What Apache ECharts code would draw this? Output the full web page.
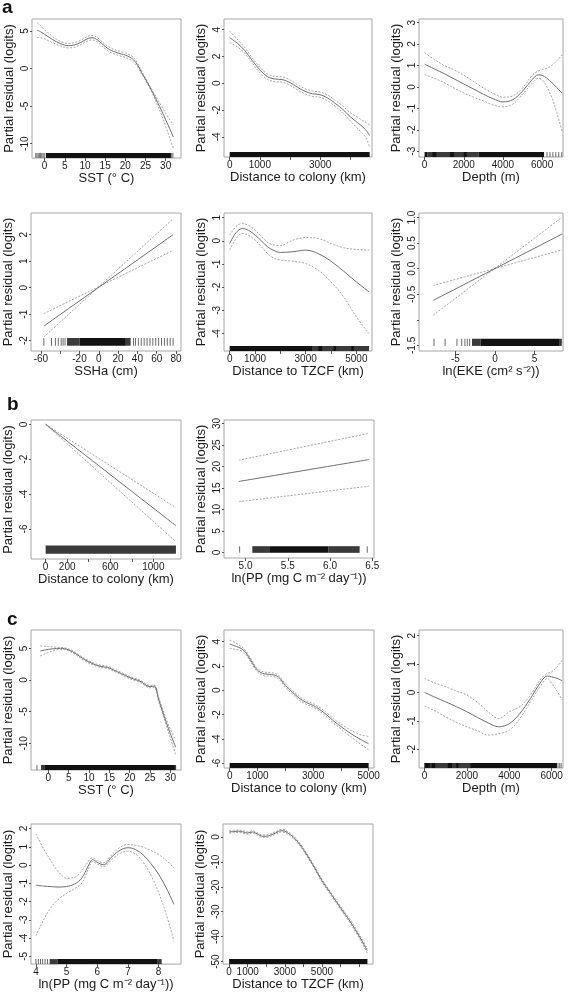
<!DOCTYPE html>
<html><head><meta charset="utf-8">
<script src="https://cdn.jsdelivr.net/npm/echarts@6/dist/echarts.min.js"></script>
<style>html,body{margin:0;padding:0;background:#fff}#c{width:570px;height:992px}</style>
</head><body><div id="c"></div>
<script>
// ---------------- DATA ----------------
// a1: SST
const a1X   = [-1.9,-1,0,1,2,3,4,5,6,7,8,9,10,11,12,13,14,15,16,17,18,19,20,21,22,23,24,25,26,27,28,29,30,31,31.9];
const a1Fit = [5.13,4.9,4.55,4.2,3.85,3.55,3.3,3.12,3.05,3.1,3.25,3.5,3.8,4.05,4.1,3.85,3.4,2.95,2.55,2.3,2.1,1.95,1.8,1.55,1.2,0.5,-0.5,-1.4,-2.4,-3.4,-4.5,-5.6,-6.8,-8.0,-9.1];
const a1Hi  = [6.13,5.7,5.15,4.7,4.25,3.9,3.6,3.42,3.35,3.4,3.55,3.8,4.1,4.35,4.4,4.15,3.7,3.25,2.85,2.6,2.4,2.25,2.1,1.85,1.5,0.75,-0.3,-1.25,-2.25,-3.15,-4.1,-5.0,-5.95,-6.8,-7.5];
const a1Lo  = [4.13,4.1,3.95,3.7,3.45,3.2,3.0,2.82,2.75,2.8,2.95,3.2,3.5,3.75,3.8,3.55,3.1,2.65,2.25,2.0,1.8,1.65,1.5,1.25,0.9,0.25,-0.7,-1.55,-2.55,-3.65,-4.9,-6.2,-7.65,-9.2,-10.6];
const a1RugDense = [[0.3,31.3]];
const a1RugMid   = [];
const a1RugTicks = [-2.2,-1.9,-1.6,-1.3,-1.0,-0.7,-0.4,-0.1,31.5,31.8];
const a1XTicks = [0,5,10,15,20,25,30], a1XLabels = [0,5,10,15,20,25,30];
const a1YTicks = [-10,-5,0,5], a1YLabels = [-10,-5,0,5];

// a2: Distance to colony
const a2X   = [0,250,500,750,1000,1250,1500,1750,2000,2250,2500,2750,3000,3250,3500,3750,4000,4250,4500,4640];
const a2Fit = [3.4,3.0,2.45,1.7,1.0,0.5,0.32,0.28,0.05,-0.3,-0.6,-0.78,-0.85,-1.1,-1.5,-1.95,-2.5,-2.95,-3.45,-3.9];
const a2Hi  = [3.9,3.3,2.67,1.9,1.2,0.7,0.52,0.48,0.25,-0.1,-0.4,-0.58,-0.65,-0.88,-1.28,-1.7,-2.2,-2.55,-2.9,-3.1];
const a2Lo  = [3.05,2.72,2.25,1.5,0.8,0.3,0.12,0.08,-0.15,-0.5,-0.8,-0.98,-1.05,-1.32,-1.72,-2.2,-2.8,-3.4,-4.0,-4.75];
const a2RugDense = [[0,4640]];
const a2RugMid   = [];
const a2RugTicks = [];
const a2XTicks = [0,1000,2000,3000,4000], a2XLabels = [0,1000,3000];
const a2YTicks = [-4,-2,0,2,4], a2YLabels = [-4,-2,0,2,4];

// a3: Depth
const a3X   = [0,500,1000,1500,2000,2500,3000,3500,4000,4500,5000,5500,5800,6000,6250,6500,6750,7030];
const a3Fit = [1.06,0.84,0.62,0.38,0.14,-0.1,-0.34,-0.55,-0.7,-0.6,-0.2,0.35,0.56,0.54,0.4,0.2,-0.03,-0.3];
const a3Hi  = [1.6,1.28,1.0,0.8,0.55,0.25,-0.05,-0.3,-0.48,-0.42,-0.05,0.55,0.74,0.8,0.88,1.0,1.22,1.5];
const a3Lo  = [0.58,0.4,0.2,-0.05,-0.28,-0.48,-0.65,-0.85,-0.93,-0.8,-0.35,0.18,0.4,0.33,0.0,-0.5,-1.2,-2.1];
const a3RugDense = [[0,150],[400,600],[1300,1500],[2000,2150],[2750,6100]];
const a3RugMid   = [[150,2750]];
const a3RugTicks = [6250,6400,6550,6700,6850,7000];
const a3XTicks = [0,2000,4000,6000], a3XLabels = [0,2000,4000,6000];
const a3YTicks = [-3,-2,-1,0,1,2,3], a3YLabels = [-3,-2,-1,0,1,2,3];

// a4: SSHa (linear term)
const a4X   = [-57,77];
const a4Fit = [-1.45,2.0];
const a4Hi  = [-0.98,1.41];
const a4Lo  = [-1.86,2.6];
const a4RugDense = [[-20,28]];
const a4RugMid   = [[-33,-20],[28,33]];
const a4RugTicks = [-57,-49,-45,-42,-39,-37,-35,36,38,41,44,47,50,53,56,59,62,65,68,71,74,77];
const a4XTicks = [-60,-40,-20,0,20,40,60,80], a4XLabels = [-60,-20,0,20,40,60,80];
const a4YTicks = [-2,-1,0,1,2], a4YLabels = [-2,-1,0,1,2];

// a5: Distance to TZCF
const a5X   = [0,250,500,750,1000,1250,1500,1750,2000,2500,3000,3500,4000,4500,5000,5500];
const a5Fit = [-0.12,0.35,0.53,0.45,0.25,0.0,-0.26,-0.42,-0.5,-0.47,-0.4,-0.55,-0.88,-1.31,-1.77,-2.2];
const a5Hi  = [0.24,0.62,0.75,0.66,0.46,0.2,-0.07,-0.18,-0.2,0.03,0.14,0.1,-0.12,-0.3,-0.37,-0.4];
const a5Lo  = [-0.4,0.1,0.32,0.24,0.03,-0.25,-0.55,-0.75,-0.83,-0.88,-0.98,-1.27,-1.77,-2.42,-3.28,-4.0];
const a5RugDense = [[0,3250],[3500,3650],[4100,4200],[4800,4900]];
const a5RugMid   = [[3250,5500]];
const a5RugTicks = [];
const a5XTicks = [0,1000,2000,3000,4000,5000], a5XLabels = [0,1000,3000,5000];
const a5YTicks = [-4,-3,-2,-1,0,1], a5YLabels = [-4,-3,-2,-1,0,1];

// a6: ln(EKE) (linear term)
const a6X   = [-7.8,8.5];
const a6Fit = [-0.62,0.68];
const a6Hi  = [-0.33,0.37];
const a6Lo  = [-0.91,1.01];
const a6RugDense = [[-1.8,8.1]];
const a6RugMid   = [[-2.9,-1.8],[8.1,8.45]];
const a6RugTicks = [-7.7,-6.3,-4.8,-4.2,-3.8,-3.5,-3.2];
const a6XTicks = [-5,0,5], a6XLabels = [-5,0,5];
const a6YTicks = [-1.5,-1.0,-0.5,0,0.5,1.0], a6YLabels = [-1.5,-0.5,0,0.5,1.0];

// b1: Distance to colony (linear)
const b1X   = [0,1210];
const b1Fit = [0,-5.81];
const b1Hi  = [0,-4.78];
const b1Lo  = [0,-6.73];
const b1RugDense = [];
const b1RugMid   = [[0,1210]];
const b1RugTicks = [];
const b1XTicks = [0,200,400,600,800,1000], b1XLabels = [0,200,600,1000];
const b1YTicks = [-6,-4,-2,0], b1YLabels = [-6,-4,-2,0];

// b2: ln(PP) (linear)
const b2X   = [4.92,6.46];
const b2Fit = [16.5,21.6];
const b2Hi  = [21.45,27.7];
const b2Lo  = [11.8,15.4];
const b2RugDense = [[5.28,5.98]];
const b2RugMid   = [[5.08,5.28],[5.98,6.35]];
const b2RugTicks = [4.93,6.44];
const b2XTicks = [5.0,5.5,6.0,6.5], b2XLabels = [5.0,5.5,6.0,6.5];
const b2YTicks = [0,5,10,15,20,25,30], b2YLabels = [0,5,10,15,20,25,30];

// c1: SST
const c1X   = [-2,-1,0,1,2,3,4,5,6,7,8,9,10,11,12,13,14,15,16,17,18,19,20,21,22,23,24,25,26,26.5,27,28,29,30,31.3];
const c1Fit = [4.58,4.72,4.84,4.93,4.98,5.0,4.95,4.75,4.45,4.05,3.6,3.2,2.85,2.55,2.3,2.15,2.05,1.9,1.6,1.3,1.0,0.7,0.4,0.15,-0.05,-0.35,-0.8,-1.05,-0.95,-1.4,-2.8,-4.8,-6.7,-8.5,-10.6];
const c1Hi  = [5.37,5.33,5.28,5.23,5.18,5.15,5.1,4.9,4.63,4.23,3.78,3.38,3.03,2.73,2.48,2.33,2.23,2.08,1.78,1.48,1.18,0.88,0.58,0.33,0.13,-0.17,-0.62,-0.87,-0.75,-1.2,-2.5,-4.4,-6.2,-7.8,-9.5];
const c1Lo  = [3.8,4.1,4.35,4.6,4.75,4.83,4.8,4.6,4.27,3.87,3.42,3.02,2.67,2.37,2.12,1.97,1.87,1.72,1.42,1.12,0.82,0.52,0.22,-0.03,-0.23,-0.53,-0.98,-1.23,-1.15,-1.6,-3.1,-5.2,-7.2,-9.2,-11.8];
const c1RugDense = [[-1.0,31.1]];
const c1RugMid   = [[-1.8,-1.0],[31.1,31.4]];
const c1RugTicks = [-2.8];
const c1XTicks = [0,5,10,15,20,25,30], c1XLabels = [0,5,10,15,20,25,30];
const c1YTicks = [-10,-5,0,5], c1YLabels = [-10,-5,0,5];

// c2: Distance to colony
const c2X   = [0,250,500,750,1000,1250,1500,1750,2000,2250,2500,2750,3000,3250,3500,3750,4000,4250,4500,4750,5000];
const c2Fit = [3.8,3.6,3.3,2.5,1.65,1.35,1.3,1.1,0.4,-0.15,-0.65,-1.0,-1.25,-1.6,-2.05,-2.55,-2.98,-3.4,-3.77,-4.1,-4.41];
const c2Hi  = [4.13,3.85,3.45,2.65,1.8,1.5,1.45,1.25,0.55,0.0,-0.5,-0.85,-1.1,-1.45,-1.88,-2.37,-2.78,-3.15,-3.47,-3.7,-3.8];
const c2Lo  = [3.45,3.35,3.15,2.35,1.5,1.2,1.15,0.95,0.25,-0.3,-0.8,-1.15,-1.4,-1.75,-2.22,-2.73,-3.18,-3.65,-4.07,-4.5,-4.9];
const c2RugDense = [[0,5000]];
const c2RugMid   = [];
const c2RugTicks = [];
const c2XTicks = [0,1000,2000,3000,4000,5000], c2XLabels = [0,1000,3000,5000];
const c2YTicks = [-6,-4,-2,0,2,4], c2YLabels = [-6,-4,-2,0,2,4];

// c3: Depth
const c3X   = [0,500,1000,1500,2000,2500,3000,3500,4000,4500,5000,5500,5800,6000,6250,6500];
const c3Fit = [0.0,-0.17,-0.33,-0.5,-0.68,-0.88,-1.07,-1.21,-1.1,-0.74,-0.21,0.38,0.58,0.55,0.5,0.41];
const c3Hi  = [0.49,0.33,0.2,0.05,-0.09,-0.35,-0.68,-0.92,-0.68,-0.5,-0.09,0.49,0.67,0.73,0.9,1.14];
const c3Lo  = [-0.48,-0.65,-0.86,-1.05,-1.21,-1.35,-1.5,-1.45,-1.33,-0.92,-0.33,0.26,0.49,0.32,0.05,-0.27];
const c3RugDense = [[0,250],[330,500],[1100,1300],[1500,1600],[2150,6250]];
const c3RugMid   = [[0,2150]];
const c3RugTicks = [6300,6380,6450];
const c3XTicks = [0,2000,4000,6000], c3XLabels = [0,2000,4000,6000];
const c3YTicks = [-2,-1,0,1,2], c3YLabels = [-2,-1,0,1,2];

// c4: ln(PP)
const c4X   = [4.0,4.25,4.5,4.75,5.0,5.25,5.5,5.75,5.85,6.0,6.2,6.5,6.75,7.0,7.25,7.5,7.75,8.0,8.25,8.5];
const c4Fit = [-1.1,-1.15,-1.18,-1.2,-1.17,-1.05,-0.7,0.1,0.3,0.15,0.02,0.5,0.82,0.95,0.85,0.55,0.08,-0.5,-1.25,-2.15];
const c4Hi  = [1.71,0.9,0.2,-0.4,-0.72,-0.68,-0.3,0.3,0.4,0.25,0.12,0.62,0.98,1.13,1.08,0.98,0.8,0.58,0.25,-0.15];
const c4Lo  = [-3.87,-3.0,-2.3,-1.85,-1.55,-1.3,-0.98,-0.05,0.2,0.05,-0.08,0.35,0.65,0.76,0.6,0.15,-0.55,-1.5,-2.7,-4.15];
const c4RugDense = [[4.7,7.95]];
const c4RugMid   = [[4.45,4.7],[7.95,8.1]];
const c4RugTicks = [4.0,4.08,4.15,4.22,4.3,4.38];
const c4XTicks = [4,5,6,7,8], c4XLabels = [4,5,6,7,8];
const c4YTicks = [-5,-4,-3,-2,-1,0,1,2], c4YLabels = [-5,-4,-3,-2,-1,0,1,2];

// c5: Distance to TZCF
const c5X   = [0,250,500,750,1000,1250,1500,1800,2000,2250,2500,2800,3000,3300,3600,4000,4500,5000,5500,6000,6500,7000,7450];
const c5Fit = [2.0,2.2,2.3,2.0,1.6,2.0,1.3,0.3,0.3,0.8,1.6,2.5,2.3,0.9,-1.1,-5,-11,-17.5,-23,-28.4,-33.7,-39.7,-45.7];
const c5Hi  = [2.5,2.7,2.8,2.5,2.1,2.5,1.8,0.8,0.8,1.3,2.1,3.0,2.8,1.4,-0.6,-4.5,-10.5,-17.0,-22.4,-27.8,-33.0,-38.9,-44.8];
const c5Lo  = [1.5,1.7,1.8,1.5,1.1,1.5,0.8,-0.2,-0.2,0.3,1.1,2.0,1.8,0.4,-1.6,-5.5,-11.5,-18.0,-23.6,-29.0,-34.4,-40.5,-46.6];
const c5RugDense = [[0,7450]];
const c5RugMid   = [];
const c5RugTicks = [];
const c5XTicks = [0,1000,2000,3000,4000,5000,6000,7000], c5XLabels = [0,1000,3000,5000];
const c5YTicks = [-50,-40,-30,-20,-10,0], c5YLabels = [-50,-40,-30,-20,-10,0];

const Y_TITLE = 'Partial residual (logits)';

// ---------------- LAYOUT ----------------
const FONT = '"Liberation Sans", Arial, Helvetica, sans-serif';
const panels = [
  {g:[32,19,149,139], xr:[-3.13,33.8], yr:[-11.9,6.6], x:a1X,f:a1Fit,hi:a1Hi,lo:a1Lo, rd:a1RugDense, rm:a1RugMid, rt:a1RugTicks, xt:a1XTicks, xl:a1XLabels, yt:a1YTicks, yl:a1YLabels, title:'SST (° C)'},
  {g:[224,19,148,138], xr:[-188,4718], yr:[-5.5,4.8], x:a2X,f:a2Fit,hi:a2Hi,lo:a2Lo, rd:a2RugDense, rm:a2RugMid, rt:a2RugTicks, xt:a2XTicks, xl:a2XLabels, yt:a2YTicks, yl:a2YLabels, title:'Distance to colony (km)'},
  {g:[419,19,144,138], xr:[-285,7067], yr:[-3.27,3.17], x:a3X,f:a3Fit,hi:a3Hi,lo:a3Lo, rd:a3RugDense, rm:a3RugMid, rt:a3RugTicks, xt:a3XTicks, xl:a3XLabels, yt:a3YTicks, yl:a3YLabels, title:'Depth (m)'},
  {g:[31,213,150,138], xr:[-70.3,85.2], yr:[-2.39,2.82], x:a4X,f:a4Fit,hi:a4Hi,lo:a4Lo, rd:a4RugDense, rm:a4RugMid, rt:a4RugTicks, xt:a4XTicks, xl:a4XLabels, yt:a4YTicks, yl:a4YLabels, title:'SSHa (cm)', rugY:[-2.19,-1.9], gap:14},
  {g:[224,213,148,138], xr:[-224,5618], yr:[-4.75,1.2], x:a5X,f:a5Fit,hi:a5Hi,lo:a5Lo, rd:a5RugDense, rm:a5RugMid, rt:a5RugTicks, xt:a5XTicks, xl:a5XLabels, yt:a5YTicks, yl:a5YLabels, title:'Distance to TZCF (km)', gap:14},
  {g:[419,213,144,138], xr:[-9.6,8.6], yr:[-1.61,1.09], x:a6X,f:a6Fit,hi:a6Hi,lo:a6Lo, rd:a6RugDense, rm:a6RugMid, rt:a6RugTicks, xt:a6XTicks, xl:a6XLabels, yt:a6YTicks, yl:a6YLabels, title:'ln(EKE (cm² s⁻²))', rugY:[-1.51,-1.37], ydec:1, gap:14},
  {g:[31,420,150,139], xr:[-136,1257], yr:[-7.72,0.25], x:b1X,f:b1Fit,hi:b1Hi,lo:b1Lo, rd:b1RugDense, rm:b1RugMid, rt:b1RugTicks, xt:b1XTicks, xl:b1XLabels, yt:b1YTicks, yl:b1YLabels, title:'Distance to colony (km)', rugY:[-7.42,-6.95]},
  {g:[224,420,150,138], xr:[4.745,6.52], yr:[-1.3,30.8], x:b2X,f:b2Fit,hi:b2Hi,lo:b2Lo, rd:b2RugDense, rm:b2RugMid, rt:b2RugTicks, xt:b2XTicks, xl:b2XLabels, yt:b2YTicks, yl:b2YLabels, title:'ln(PP (mg C m⁻² day⁻¹))', rugY:[-0.1,1.45], xdec:1},
  {g:[31,630,150,140], xr:[-4.26,32.6], yr:[-14.2,7.9], x:c1X,f:c1Fit,hi:c1Hi,lo:c1Lo, rd:c1RugDense, rm:c1RugMid, rt:c1RugTicks, xt:c1XTicks, xl:c1XLabels, yt:c1YTicks, yl:c1YLabels, title:'SST (° C)'},
  {g:[224,630,150,138], xr:[-204,5192], yr:[-6.4,4.96], x:c2X,f:c2Fit,hi:c2Hi,lo:c2Lo, rd:c2RugDense, rm:c2RugMid, rt:c2RugTicks, xt:c2XTicks, xl:c2XLabels, yt:c2YTicks, yl:c2YLabels, title:'Distance to colony (km)'},
  {g:[419,630,144,138], xr:[-262,6536], yr:[-2.66,2.2], x:c3X,f:c3Fit,hi:c3Hi,lo:c3Lo, rd:c3RugDense, rm:c3RugMid, rt:c3RugTicks, xt:c3XTicks, xl:c3XLabels, yt:c3YTicks, yl:c3YLabels, title:'Depth (m)'},
  {g:[31,824,150,141], xr:[3.84,8.73], yr:[-5.42,2.25], x:c4X,f:c4Fit,hi:c4Hi,lo:c4Lo, rd:c4RugDense, rm:c4RugMid, rt:c4RugTicks, xt:c4XTicks, xl:c4XLabels, yt:c4YTicks, yl:c4YLabels, title:'ln(PP (mg C m⁻² day⁻¹))'},
  {g:[223,824,150,141], xr:[-330,7750], yr:[-51,5.2], x:c5X,f:c5Fit,hi:c5Hi,lo:c5Lo, rd:c5RugDense, rm:c5RugMid, rt:c5RugTicks, xt:c5XTicks, xl:c5XLabels, yt:c5YTicks, yl:c5YLabels, title:'Distance to TZCF (km)'}
];

const zip = (xs, ys) => xs.map((v, i) => [v, ys[i]]);
const grids = [], xAxes = [], yAxes = [], series = [];
const TXT = '#1a1a1a';
const RUG_FILL = {2:'#111111', 1:'#3a3a3a', 0:'#6a6a6a'};

panels.forEach((p, i) => {
  grids.push({left:p.g[0], top:p.g[1], width:p.g[2], height:p.g[3], show:true,
    borderColor:'#a6a6a6', borderWidth:1, backgroundColor:'transparent'});
  xAxes.push({gridIndex:i, type:'value', min:p.xr[0], max:p.xr[1],
    axisLine:{show:false, onZero:false}, splitLine:{show:false},
    axisTick:{show:true, customValues:p.xt, length:3, inside:false, lineStyle:{color:'#555', width:1}},
    axisLabel:{customValues:p.xl, fontSize:10, color:TXT, margin:3, fontFamily:FONT,
      formatter: v => p.xdec ? Number(v).toFixed(p.xdec) : String(v)},
    name:p.title, nameLocation:'middle', nameGap:p.gap || 11,
    nameTextStyle:{fontSize:13, color:TXT, fontFamily:FONT}});
  yAxes.push({gridIndex:i, type:'value', min:p.yr[0], max:p.yr[1],
    axisLine:{show:false, onZero:false}, splitLine:{show:false},
    axisTick:{show:true, customValues:p.yt, length:2, lineStyle:{color:'#555', width:1}},
    axisLabel:{customValues:p.yl, fontSize:10, color:TXT, margin:2, rotate:90, fontFamily:FONT,
      formatter: v => p.ydec ? Number(v).toFixed(p.ydec) : String(v)},
    name:Y_TITLE, nameLocation:'middle', nameGap:16, nameRotate:90,
    nameTextStyle:{fontSize:13, color:TXT, fontFamily:FONT}});

  const base = {type:'line', xAxisIndex:i, yAxisIndex:i, showSymbol:false, symbol:'none',
    silent:true, animation:false, smooth:0.35, clip:true};
  series.push(Object.assign({}, base, {data:zip(p.x, p.lo), lineStyle:{color:'#a4a4a4', width:1, type:[2,1.5]}}));
  series.push(Object.assign({}, base, {data:zip(p.x, p.hi), lineStyle:{color:'#a4a4a4', width:1, type:[2,1.5]}}));
  series.push(Object.assign({}, base, {data:zip(p.x, p.f), lineStyle:{color:'#6e6e6e', width:1}}));

  const rugY = p.rugY || [p.yr[0], p.yr[0] + 0.036 * (p.yr[1] - p.yr[0])];
  const rugData = p.rm.map(b => [b[0], b[1], 1])
    .concat(p.rd.map(b => [b[0], b[1], 2]))
    .concat(p.rt.map(t => [t, t, 0]));
  series.push({type:'custom', xAxisIndex:i, yAxisIndex:i, silent:true, animation:false,
    data:rugData, encode:{x:[0,1]},
    renderItem:(params, api) => {
      const kind = api.value(2);
      const a = api.coord([api.value(0), rugY[0]]);
      const b = api.coord([api.value(1), rugY[1]]);
      const top = Math.min(a[1], b[1]), h = Math.abs(a[1] - b[1]);
      if (kind === 0) {
        return {type:'rect', shape:{x:a[0]-0.5, y:top, width:1, height:h}, style:{fill:RUG_FILL[0]}};
      }
      return {type:'rect', shape:{x:a[0], y:top, width:Math.max(1, b[0]-a[0]), height:h}, style:{fill:RUG_FILL[kind]}};
    }});
});

const chart = echarts.init(document.getElementById('c'), null, {renderer:'canvas', width:570, height:992});
chart.setOption({
  backgroundColor:'#ffffff',
  animation:false,
  grid:grids, xAxis:xAxes, yAxis:yAxes, series:series,
  graphic:[
    {type:'text', left:2, top:-2, style:{text:'a', fontSize:19, fontWeight:'bold', fill:'#111', fontFamily:FONT}},
    {type:'text', left:7, top:395, style:{text:'b', fontSize:19, fontWeight:'bold', fill:'#111', fontFamily:FONT}},
    {type:'text', left:7, top:610, style:{text:'c', fontSize:19, fontWeight:'bold', fill:'#111', fontFamily:FONT}}
  ]
});
</script></body></html>
